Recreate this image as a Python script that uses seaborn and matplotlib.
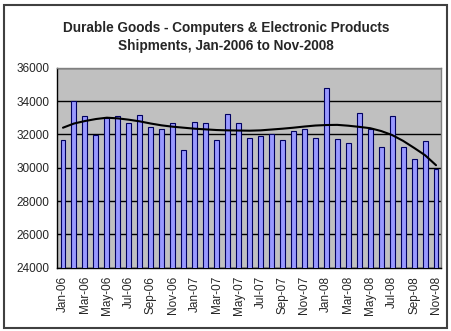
import numpy as np
import pandas as pd
import matplotlib
matplotlib.use("Agg")
import matplotlib.pyplot as plt
import seaborn as sns
from matplotlib.patches import Rectangle

months = ["Jan-06", "Feb-06", "Mar-06", "Apr-06", "May-06", "Jun-06", "Jul-06", "Aug-06",
          "Sep-06", "Oct-06", "Nov-06", "Dec-06", "Jan-07", "Feb-07", "Mar-07", "Apr-07",
          "May-07", "Jun-07", "Jul-07", "Aug-07", "Sep-07", "Oct-07", "Nov-07", "Dec-07",
          "Jan-08", "Feb-08", "Mar-08", "Apr-08", "May-08", "Jun-08", "Jul-08", "Aug-08",
          "Sep-08", "Oct-08", "Nov-08"]
shipments = [31640, 34000, 33080, 31960, 32980, 33080, 32680, 33140, 32420, 32340,
             32680, 31040, 32760, 32680, 31640, 33220, 32680, 31800, 31920, 32040,
             31660, 32180, 32300, 31780, 34800, 31720, 31460, 33300, 32300, 31260,
             33100, 31260, 30540, 31600, 29900]
trend = [32400, 32650, 32800, 32920, 33000, 32960, 32880, 32780, 32650, 32540,
         32460, 32400, 32340, 32300, 32260, 32240, 32230, 32220, 32240, 32290,
         32340, 32400, 32470, 32530, 32560, 32570, 32520, 32450, 32370, 32200,
         31960, 31610, 31190, 30750, 30150]
y_ticks = [24000, 26000, 28000, 30000, 32000, 34000, 36000]
title = "Durable Goods - Computers & Electronic Products\nShipments, Jan-2006 to Nov-2008"

df = pd.DataFrame({"month": months, "value": shipments, "trend": trend,
                   "idx": np.arange(len(months))})

sns.set_style("white")
plt.rcParams["font.family"] = ["Liberation Sans", "DejaVu Sans"]

fig = plt.figure(figsize=(4.52, 3.31), dpi=100)
ax = fig.add_axes([57.5 / 452, (331 - 267.7) / 331, (441.5 - 57.5) / 452, (267.7 - 67.7) / 331])
ax.set_facecolor("#C0C0C0")

sns.barplot(data=df, x="month", y="value", ax=ax, color="#9999FF", width=0.45,
            edgecolor="#000060", linewidth=0.8, saturation=1, zorder=3)

sns.lineplot(data=df, x="idx", y="trend", ax=ax, color="black", linewidth=1.5, zorder=4)

ax.set_ylim(24000, 36000)
ax.set_xlim(-0.5, len(months) - 0.5)
ax.set_yticks(y_ticks)
ax.set_yticklabels([str(t) for t in y_ticks], fontsize=8.5)
ax.set_xticks(range(0, len(months), 2))
ax.set_xticklabels(months[::2], rotation=90, fontsize=8.5)
ax.yaxis.grid(True, color="black", linewidth=1.0, zorder=1)
ax.set_axisbelow(True)
ax.set_xlabel("")
ax.set_ylabel("")
ax.tick_params(axis="both", direction="out", length=4, width=1, color="black", pad=2)

for side in ["top", "right"]:
    ax.spines[side].set_color("#808080")
    ax.spines[side].set_linewidth(1.0)
for side in ["left", "bottom"]:
    ax.spines[side].set_color("black")
    ax.spines[side].set_linewidth(1.0)

fig.text(0.5, 1 - 37 / 331, title, ha="center", va="center", fontsize=9.8,
         fontweight="bold", linespacing=1.4)

fig.patches.append(Rectangle((4 / 452, 1 - 328 / 331), 443 / 452, 323 / 331,
                             transform=fig.transFigure, fill=False,
                             edgecolor="#404040", linewidth=1.5))

fig.savefig("out.png", dpi=100)
